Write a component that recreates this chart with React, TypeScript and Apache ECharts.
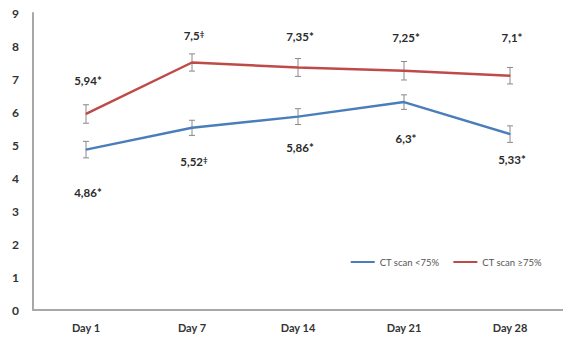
import React, { useEffect, useRef } from "react";
import * as echarts from "echarts";

const days = ["Day 1", "Day 7", "Day 14", "Day 21", "Day 28"];
const lowScan = [4.86, 5.52, 5.86, 6.3, 5.33];
const highScan = [5.94, 7.5, 7.35, 7.25, 7.1];
const lowErr = [0.25, 0.23, 0.24, 0.22, 0.25];
const highErr = [0.28, 0.26, 0.27, 0.28, 0.25];
const lowMarks = ["4,86*", "5,52‡", "5,86*", "6,3*", "5,33*"];
const highMarks = ["5,94*", "7,5‡", "7,35*", "7,25*", "7,1*"];
const legendNames = ["CT scan <75%", "CT scan ≥75%"];
const yTicks = [0, 9, 1];

// vertical pixel offsets of the value labels from their points
const lowLabelShift = [43, 34, 31, 36, 25];
const highLabelShift = [-33, -27, -31, -33, -38];

const FONT = "Lato, 'Open Sans', sans-serif";
const BLUE = "#4A7EBB";
const RED = "#BE4B48";

function errorSeries(values: number[], errs: number[]) {
  return {
    type: "custom",
    silent: true,
    z: 1,
    data: values.map((v, i) => [i, v - errs[i], v + errs[i]]),
    renderItem: (_params: any, api: any) => {
      const lo = api.coord([api.value(0), api.value(1)]);
      const hi = api.coord([api.value(0), api.value(2)]);
      const cap = 3;
      const style = { stroke: "#8a8a8a", lineWidth: 1 };
      return {
        type: "group",
        children: [
          { type: "line", shape: { x1: lo[0], y1: lo[1], x2: hi[0], y2: hi[1] }, style },
          { type: "line", shape: { x1: lo[0] - cap, y1: lo[1], x2: lo[0] + cap, y2: lo[1] }, style },
          { type: "line", shape: { x1: hi[0] - cap, y1: hi[1], x2: hi[0] + cap, y2: hi[1] }, style },
        ],
      };
    },
  };
}

// the double dagger is set as a small raised mark
const markText = (m: string) => m.replace("‡", "{sup|‡}");

function lineSeries(name: string, values: number[], marks: string[], shifts: number[], color: string) {
  return {
    name,
    type: "line",
    z: 3,
    symbol: "circle",
    symbolSize: 1,
    showSymbol: true,
    lineStyle: { color, width: 2.5 },
    itemStyle: { color },
    data: values.map((v, i) => ({
      value: v,
      label: {
        show: true,
        position: "inside",
        offset: [2, shifts[i]],
        formatter: markText(marks[i]),
        color: "#2b2b2b",
        fontFamily: FONT,
        fontWeight: "bold",
        fontSize: 11.5,
        rich: {
          sup: {
            fontFamily: FONT,
            fontWeight: "bold",
            fontSize: 8,
            color: "#2b2b2b",
            verticalAlign: "top",
            padding: [0, 0, 4, 0],
          },
        },
      },
    })),
  };
}

export default function App() {
  const ref = useRef<HTMLDivElement>(null);
  useEffect(() => {
    if (!ref.current) return;
    const chart = echarts.init(ref.current, undefined, { renderer: "svg" });
    chart.setOption({
      animation: false,
      backgroundColor: "#ffffff",
      grid: { left: 33, right: -10, top: 13, bottom: 28 },
      legend: {
        data: [
          { name: legendNames[0], icon: "rect", itemStyle: { color: BLUE } },
          { name: legendNames[1], icon: "rect", itemStyle: { color: RED } },
        ],
        right: 16,
        top: 252,
        itemWidth: 24,
        itemHeight: 2,
        itemGap: 14,
        textStyle: { fontFamily: FONT, fontSize: 9.5, color: "#555" },
      },
      xAxis: {
        type: "category",
        data: days,
        boundaryGap: true,
        axisLine: { lineStyle: { color: "#a8a8a8", width: 2 } },
        axisTick: { show: false },
        axisLabel: {
          margin: 12,
          fontFamily: FONT,
          fontWeight: "bold",
          fontSize: 11,
          color: "#333",
        },
      },
      yAxis: {
        type: "value",
        min: yTicks[0],
        max: yTicks[1],
        interval: yTicks[2],
        splitLine: { show: false },
        axisLine: { show: true, lineStyle: { color: "#a8a8a8", width: 2 } },
        axisTick: { show: false },
        axisLabel: {
          margin: 14,
          fontFamily: FONT,
          fontWeight: "bold",
          fontSize: 12,
          color: "#333",
        },
      },
      series: [
        errorSeries(lowScan, lowErr),
        errorSeries(highScan, highErr),
        lineSeries(legendNames[0], lowScan, lowMarks, lowLabelShift, BLUE),
        lineSeries(legendNames[1], highScan, highMarks, highLabelShift, RED),
      ],
    });
    return () => chart.dispose();
  }, []);
  return (
    <div
      ref={ref}
      style={{ position: "fixed", left: 0, top: 0, width: 563, height: 338, background: "#fff" }}
    />
  );
}
